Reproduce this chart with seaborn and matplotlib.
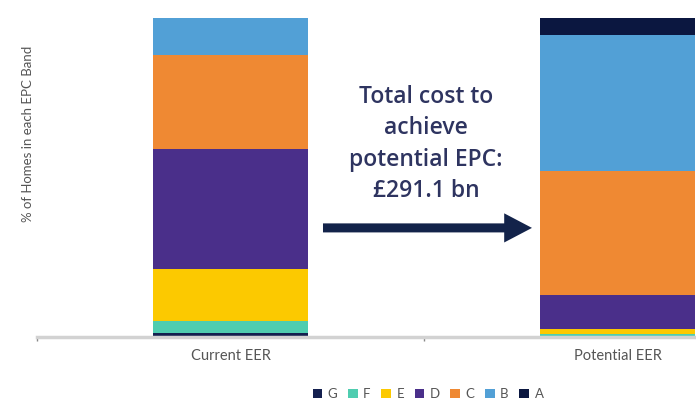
import numpy as np
import pandas as pd
import matplotlib
matplotlib.use("Agg")
import matplotlib.pyplot as plt
from matplotlib.patches import Patch
import seaborn as sns

# EPC band shares (% of homes), bottom band first
categories = ["Current EER", "Potential EER"]
bands = ["G", "F", "E", "D", "C", "B", "A"]
current_share = [1.2, 3.8, 16.2, 37.8, 29.4, 11.6, 0.0]
potential_share = [0.1, 0.8, 1.6, 10.7, 38.7, 42.8, 5.3]
band_colors = ["#14204f", "#4fcdb0", "#fcc900", "#4a2f8a", "#ef8933", "#52a0d6", "#0b1740"]

cost_text = "Total cost to\nachieve\npotential EPC:\n£291.1 bn"

sns.set_theme(style="white")
plt.rcParams["font.family"] = ["Lato", "DejaVu Sans"]

W, H = 696, 407
fig = plt.figure(figsize=(W / 100, H / 100), dpi=100)
fig.patch.set_facecolor("white")

# axes extends past the right edge so each category slot is equal width
left_px, bottom_px, top_px, slot_px = 37, 337, 18, 387
ax = fig.add_axes([left_px / W, (H - bottom_px) / H,
                   2 * slot_px / W, (bottom_px - top_px) / H])

shares = np.array([current_share, potential_share])  # (category, band)
bottoms = np.zeros(len(categories))
for i, band in enumerate(bands):
    vals = shares[:, i]
    df = pd.DataFrame({"cat": categories, "val": vals})
    sns.barplot(data=df, x="cat", y="val", bottom=bottoms, color=band_colors[i],
                saturation=1, width=0.4, errorbar=None, linewidth=0, ax=ax)
    bottoms = bottoms + vals

ax.set_xlim(-0.5, 1.5)
ax.set_ylim(0, 100)
ax.set_xlabel("")
ax.set_ylabel("")
ax.set_yticks([])
for s in ["left", "right", "top"]:
    ax.spines[s].set_visible(False)
ax.spines["bottom"].set_color("#d2d2d2")
ax.spines["bottom"].set_linewidth(2.5)
ax.set_xticks([0, 1])
ax.set_xticklabels(categories, fontsize=10.5, color="#555555")
ax.tick_params(axis="x", which="major", length=0, pad=9)
ax.set_xticks([-0.5, 0.5], minor=True)
ax.tick_params(axis="x", which="minor", length=3, width=1, color="#888888", bottom=True)

# cost annotation with arrow between the two bars
ax.annotate("", xy=(0.779, 34.2), xytext=(0.239, 34.2),
            arrowprops=dict(width=6.5, headwidth=21, headlength=20, shrink=0,
                            facecolor="#13234a", edgecolor="#13234a", lw=0))
fig.text(426 / W, 1 - 144 / H, cost_text, ha="center", va="center",
         fontsize=16.5, fontweight="semibold", color="#2e3460", linespacing=1.42,
         family=["Open Sans", "DejaVu Sans"])

fig.text(28 / W, 1 - 134 / H, "% of Homes in each EPC Band", rotation=90,
         ha="center", va="center", fontsize=9.5, color="#555555")

handles = [Patch(facecolor=c, edgecolor="none", label=b) for b, c in zip(bands, band_colors)]
fig.legend(handles=handles, loc="center", bbox_to_anchor=(428 / W, 1 - 394 / H),
           ncol=7, frameon=False, fontsize=9.5, handlelength=0.75, handleheight=0.75,
           handletextpad=0.4, columnspacing=0.8, labelcolor="#555555")

fig.savefig("out.png", dpi=100, facecolor="white")
